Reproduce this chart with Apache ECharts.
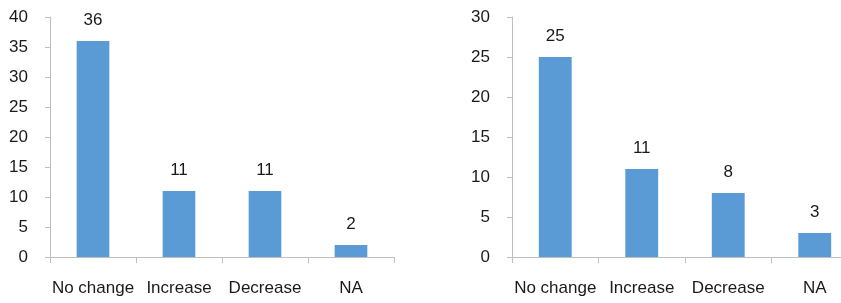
<!DOCTYPE html>
<html>
	<head>
		<meta charset="utf-8">
		<title>Change counts</title>
		<script src="https://cdn.jsdelivr.net/npm/echarts@6/dist/echarts.min.js"></script>
		<style>
			body { margin: 0; background: #fff; }
		</style>
	</head>
	<body>
		<div id="main" style="width: 841px;height:303px;"></div>
		<script type="text/javascript">
			// 类别与两组数值
			var categories = ['No change', 'Increase', 'Decrease', 'NA'];
			var leftValues = [36, 11, 11, 2];
			var rightValues = [25, 11, 8, 3];
			var leftMax = 40;
			var rightMax = 30;

			var myChart = echarts.init(document.getElementById('main'));
			var barColor = '#5b9bd5';
			var font = 'Liberation Sans, Arial, sans-serif';

			function xAxisOf(idx) {
				return {
					type: 'category',
					gridIndex: idx,
					data: categories,
					axisLine: { lineStyle: { color: '#bfbfbf', width: 1 } },
					axisTick: { show: true, length: 6, lineStyle: { color: '#bfbfbf' } },
					axisLabel: { color: '#1a1a1a', fontSize: 17, fontFamily: font, margin: 23, interval: 0 }
				};
			}
			function yAxisOf(idx, max) {
				return {
					type: 'value',
					gridIndex: idx,
					min: 0,
					max: max,
					interval: 5,
					splitLine: { show: false },
					axisLine: { show: true, lineStyle: { color: '#bfbfbf', width: 1 } },
					axisTick: { show: true, length: 5, lineStyle: { color: '#bfbfbf' } },
					axisLabel: { color: '#1a1a1a', fontSize: 17, fontFamily: font, margin: 22 }
				};
			}
			function barOf(idx, values) {
				return {
					type: 'bar',
					xAxisIndex: idx,
					yAxisIndex: idx,
					data: values,
					barWidth: '38%',
					itemStyle: { color: barColor },
					label: {
						show: true,
						position: 'top',
						distance: 12,
						color: '#1a1a1a',
						fontSize: 17,
						fontFamily: font
					}
				};
			}

			var option = {
				animation: false,
				grid: [
					{ left: 50, top: 17, width: 344, height: 240, outerBoundsMode: 'none' },
					{ left: 512, top: 17, width: 346, height: 240, outerBoundsMode: 'none' }
				],
				xAxis: [xAxisOf(0), xAxisOf(1)],
				yAxis: [yAxisOf(0, leftMax), yAxisOf(1, rightMax)],
				series: [barOf(0, leftValues), barOf(1, rightValues)]
			};
			option && myChart.setOption(option);
		</script>
	</body>
</html>
